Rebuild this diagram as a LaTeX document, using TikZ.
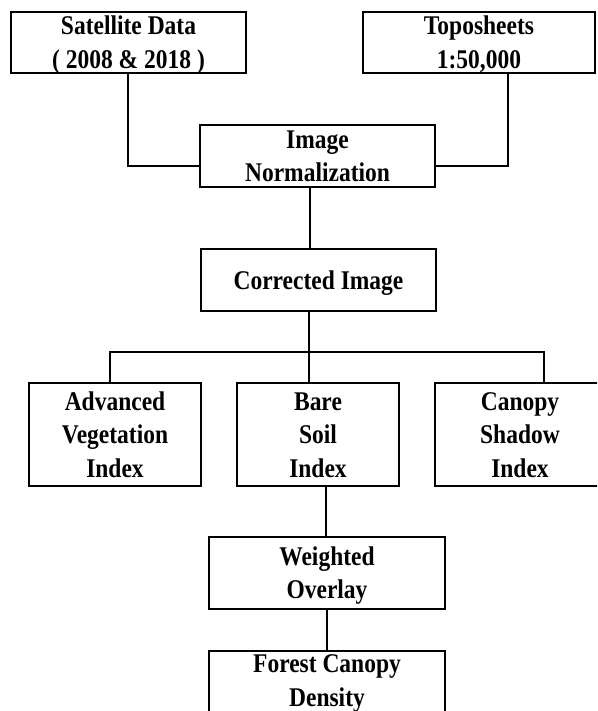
\documentclass[tikz,border=0pt]{standalone}
\usepackage{fontspec}
\setmainfont{Liberation Serif}[FakeStretch=0.87]
\usetikzlibrary{calc}
\begin{document}
\begin{tikzpicture}[x=1pt,y=-1pt,
  box/.style={draw,line width=2.2pt,rectangle,align=center,inner sep=0pt,
    text height=18pt,text depth=0pt,
    font=\fontsize{27}{33.5}\selectfont\bfseries},
  twoline/.style={text height=51.5pt},
  threeline/.style={text height=85pt},
  conn/.style={line width=2.2pt}]
\useasboundingbox (0,0) rectangle (597,711);
\clip (0,0) rectangle (597,711);
\node[box,twoline,minimum width=235pt,minimum height=61pt] (sat) at (128.5,42.5) {Satellite Data\\( 2008 \& 2018 )};
\node[box,twoline,minimum width=232pt,minimum height=61pt] (topo) at (479,42.5) {Toposheets\\1:50,000};
\node[box,twoline,minimum width=235pt,minimum height=62pt] (norm) at (317.5,156) {Image\\Normalization};
\node[box,minimum width=235pt,minimum height=62pt] (corr) at (318.5,280) {Corrected Image};
\node[box,threeline,minimum width=172pt,minimum height=103pt] (avi) at (115,434.5) {Advanced\\Vegetation\\Index};
\node[box,threeline,minimum width=162pt,minimum height=103pt] (bsi) at (318,434.5) {Bare\\Soil\\Index};
\node[box,threeline,minimum width=170pt,minimum height=103pt] (csi) at (520,434.5) {Canopy\\Shadow\\Index};
\node[box,twoline,minimum width=236pt,minimum height=72pt] (wo) at (327,573) {Weighted\\Overlay};
\node[box,twoline,minimum width=236pt,minimum height=79pt,text depth=20pt] (fcd) at (327,690.5) {Forest Canopy\\Density};
% connectors
\coordinate (jl) at (128,166);
\coordinate (jr) at (508,166);
\draw[conn] (sat.south -| jl) -- (jl) -- (norm.west |- jl);
\draw[conn] (topo.south -| jr) -- (jr) -- (norm.east |- jr);
\coordinate (v1) at (310,0);
\draw[conn] (norm.south -| v1) -- (corr.north -| v1);
\coordinate (j) at (309,352);
\coordinate (ja) at (110,352);
\coordinate (jc) at (544,352);
\draw[conn] (corr.south -| j) -- (j);
\draw[conn] (avi.north -| ja) -- (ja) -- (jc) -- (csi.north -| jc);
\draw[conn] (j) -- (bsi.north -| j);
\coordinate (v2) at (326,0);
\draw[conn] (bsi.south -| v2) -- (wo.north -| v2);
\draw[conn] (wo.south) -- (fcd.north);
\end{tikzpicture}
\end{document}
